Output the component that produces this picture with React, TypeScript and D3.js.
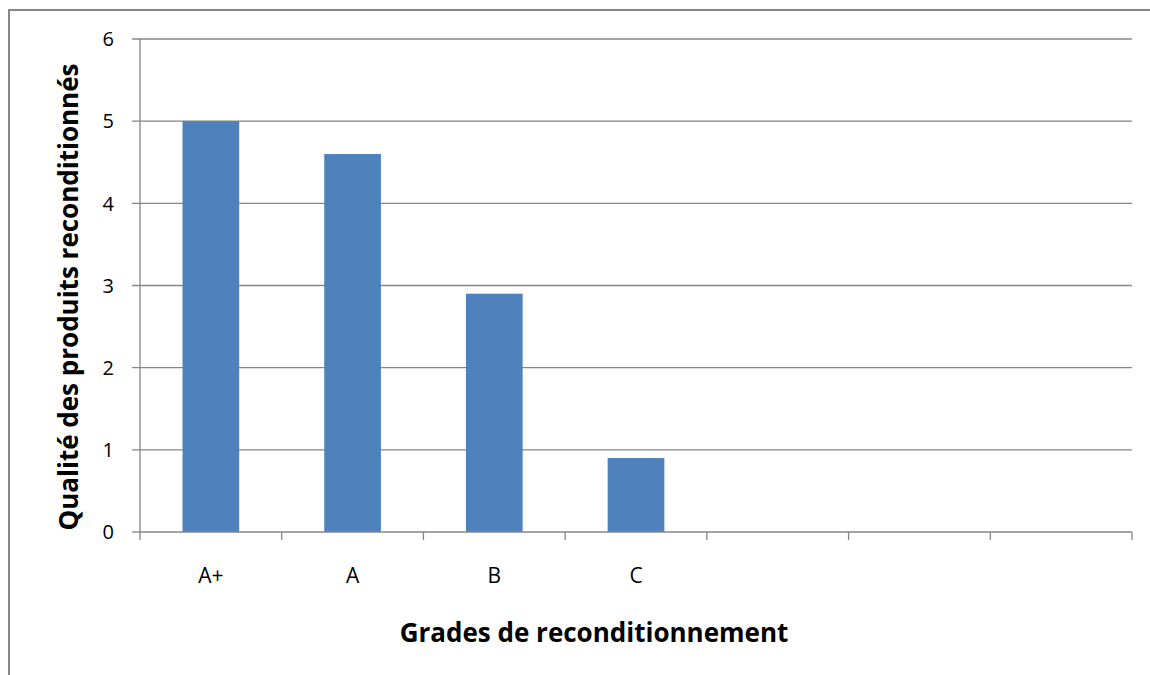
import React from 'react'
import * as d3 from 'd3'

const categories = ['A+', 'A', 'B', 'C', '', ' ', '  ']
const values = [5, 4.6, 2.9, 0.9, null, null, null]
const yTicks = [0, 1, 2, 3, 4, 5, 6]
const xTitle = 'Grades de reconditionnement'
const yTitle = 'Qualité des produits reconditionnés'

const W = 1150
const H = 675
const plot = { left: 140, right: 1132, top: 39, bottom: 532 }
const font = "'Open Sans', 'Noto Sans', sans-serif"

export default function App() {
  const x = d3.scaleBand().domain(categories).range([plot.left, plot.right]).paddingInner(0).paddingOuter(0)
  const y = d3.scaleLinear().domain([0, 6]).range([plot.bottom, plot.top])
  const barW = x.bandwidth() * 0.4
  const grid = '#868686'

  return (
    <svg width={W} height={H} style={{ position: 'absolute', left: 0, top: 0 }}>
      <rect x={0} y={0} width={W} height={H} fill='#fff' />
      <rect x={9} y={10} width={W} height={H} fill='none' stroke={grid} strokeWidth={2} />
      {yTicks.map(t => (
        <g key={t}>
          <line x1={plot.left - 8} x2={t === 0 ? plot.left : plot.right} y1={y(t)} y2={y(t)} stroke={grid} strokeWidth={1.3} />
          <text x={114} y={y(t)} dy='0.36em' textAnchor='end' fontFamily={font} fontSize={20} fill='#000'>{t}</text>
        </g>
      ))}
      {categories.map((c, i) => {
        const v = values[i]
        const cx = x(c)! + x.bandwidth() / 2
        return (
          <g key={i}>
            {v != null && (
              <rect x={cx - barW / 2} y={y(v)} width={barW} height={y(0) - y(v)} fill='#4F81BD' />
            )}
            <text x={cx} y={575} dy='0.36em' textAnchor='middle' fontFamily={font} fontSize={21} fill='#000'>{c.trim()}</text>
          </g>
        )
      })}
      {d3.range(categories.length + 1).map(i => {
        const px = plot.left + i * x.bandwidth()
        return <line key={'t' + i} x1={px} x2={px} y1={plot.bottom} y2={plot.bottom + 8} stroke={grid} strokeWidth={1.3} />
      })}
      <line x1={plot.left} x2={plot.left} y1={plot.top} y2={plot.bottom} stroke={grid} strokeWidth={1.3} />
      <line x1={plot.left} x2={plot.right} y1={plot.bottom} y2={plot.bottom} stroke={grid} strokeWidth={1.3} />
      <text x={594} y={633} dy='0.36em' textAnchor='middle' fontFamily={font} fontSize={26} fontWeight='bold' fill='#000'>{xTitle}</text>
      <text transform={`translate(69, 297) rotate(-90)`} dy='0.36em' textAnchor='middle' fontFamily={font} fontSize={26} fontWeight='bold' fill='#000'>{yTitle}</text>
    </svg>
  )
}
